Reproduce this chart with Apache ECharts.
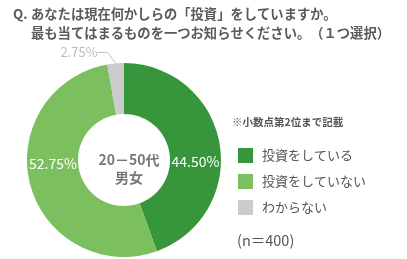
<!DOCTYPE html>
<html><head><meta charset="utf-8">
<script src="https://cdn.jsdelivr.net/npm/echarts@6/dist/echarts.min.js"></script>
<style>html,body{margin:0;padding:0;background:#fff;}#c{width:407px;height:259px;}</style>
</head><body><div id="c"></div>
<script>
var categories = ['投資をしている', '投資をしていない', 'わからない'];
var values = [44.50, 52.75, 2.75];
var colors = ['#37963c', '#7bbf5f', '#cbcbcb'];
var titlePrefix = 'Q.';
var titleLine1 = 'あなたは現在何かしらの「投資」をしていますか。';
var titleLine2 = '最も当てはまるものを一つお知らせください。　（１つ選択）';
var centerText = '20－50代\n男女';
var noteText = '※小数点第2位まで記載';
var sampleText = '(n＝400)';

var FONT = '"Noto Sans CJK JP", "Noto Sans", sans-serif';
var labelCfg = [
  {show: true, position: 'inside', color: '#fff', fontSize: 14, offset: [-2, 14]},
  {show: true, position: 'inside', color: '#fff', fontSize: 14, offset: [1, -15]},
  {show: true, position: 'outside', color: '#bdbdbd', fontSize: 13}
];
var data = categories.map(function (n, i) {
  return {name: n, value: values[i], itemStyle: {color: colors[i]}, label: labelCfg[i],
    labelLine: {show: i === 2, length: 6, length2: 10, lineStyle: {color: '#bdbdbd', width: 1}}};
});
var titleStyle = {fontSize: 13.3, fontWeight: 'bold', color: '#5a5a5a', fontFamily: FONT};

var chart = echarts.init(document.getElementById('c'));
chart.setOption({
  animation: false,
  textStyle: {fontFamily: FONT},
  title: [
    {text: titlePrefix, left: 8, top: 2, textStyle: titleStyle},
    {text: titleLine1, left: 26, top: 2, textStyle: titleStyle},
    {text: titleLine2, left: 26, top: 21, textStyle: titleStyle},
    {text: centerText, left: 124, top: 146, textAlign: 'center', textStyle: {fontSize: 14, lineHeight: 18, fontWeight: 'bold', color: '#777', fontFamily: FONT}},
    {text: noteText, left: 227, top: 112, textStyle: {fontSize: 10.5, fontWeight: 'bold', color: '#555', fontFamily: FONT}},
    {text: sampleText, left: 232, top: 228, textStyle: {fontSize: 14.5, fontWeight: 'normal', color: '#555', fontFamily: FONT}}
  ],
  legend: {
    orient: 'vertical', left: 238, top: 148, itemWidth: 15, itemHeight: 15, itemGap: 11,
    icon: 'rect', padding: 0,
    textStyle: {fontSize: 13, color: '#555', fontFamily: FONT, padding: [0, 0, 0, 4]},
    data: categories
  },
  series: [{
    type: 'pie', center: [124, 160], radius: [46, 97], startAngle: 90, clockwise: true,
    avoidLabelOverlap: false, silent: true,
    label: {fontFamily: FONT, formatter: function (p) { return p.value.toFixed(2) + '%'; }},
    labelLayout: function (params) {
      if (params.dataIndex !== 2 || !params.labelLinePoints) { return; }
      var s = params.labelLinePoints[0];
      return {x: s[0] - 18, y: s[1] - 11, align: 'right', verticalAlign: 'middle'};
    },
    data: data
  }]
});
</script></body></html>
